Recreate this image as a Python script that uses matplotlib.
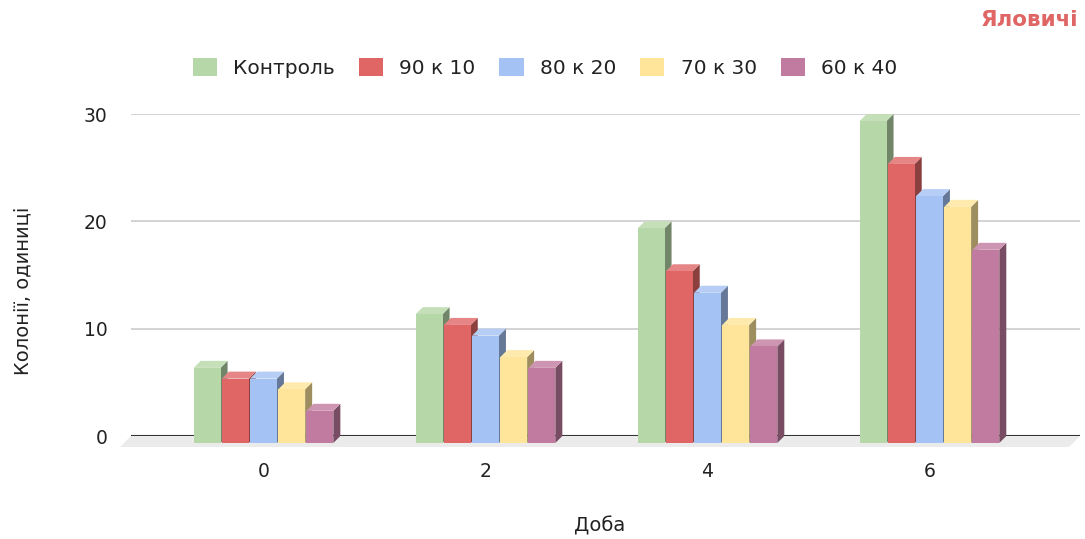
import matplotlib.pyplot as plt
from matplotlib.patches import Polygon, Rectangle, Patch
import numpy as np

plt.rcParams['font.family'] = ['DejaVu Sans']

# days and colony counts per mix
days = ['0', '2', '4', '6']
series = ['Контроль', '90 к 10', '80 к 20', '70 к 30', '60 к 40']
kontrol = [7, 12, 20, 30]
mix_90_10 = [6, 11, 16, 26]
mix_80_20 = [6, 10, 14, 23]
mix_70_30 = [5, 8, 11, 22]
mix_60_40 = [3, 7, 9, 18]
values = [kontrol, mix_90_10, mix_80_20, mix_70_30, mix_60_40]
colors = ['#b6d7a8', '#e06666', '#a4c2f4', '#ffe599', '#c27ba0']


def shade(c, k):
    r, g, b = plt.matplotlib.colors.to_rgb(c)
    return (r * k, g * k, b * k)


def tint(c, k):
    r, g, b = plt.matplotlib.colors.to_rgb(c)
    return (r + (1 - r) * k, g + (1 - g) * k, b + (1 - b) * k)


W, H = 1085, 539
fig = plt.figure(figsize=(W / 100, H / 100), dpi=100)
left, right, top, bottom = 131, 1080, 114, 436
ax = fig.add_axes([left / W, 1 - bottom / H, (right - left) / W, (bottom - top) / H])

x0, x1 = -0.597, 3.678
ax.set_xlim(x0, x1)
ax.set_ylim(0, 30)

px_x = (right - left) / (x1 - x0)
px_y = (bottom - top) / 30.0
ddx, ddy = 7 / px_x, 7 / px_y      # depth of the 3d bars
fdx, fdy = 11 / px_x, 11 / px_y    # depth of the floor

# floor and grid
ax.add_patch(Polygon([(x0, 0), (x1, 0), (x1 - fdx, -fdy), (x0 - fdx, -fdy)],
                     closed=True, facecolor='#ebebeb', edgecolor='none',
                     clip_on=False, zorder=1))
for gy in [10, 20, 30]:
    ax.axhline(gy, color='#cccccc', lw=1.2, zorder=0)
ax.axhline(0, color='#333333', lw=1.5, zorder=2)

slot = 0.127
w = 0.121
for j, (vals, c) in enumerate(zip(values, colors)):
    for i, v in enumerate(vals):
        xc = i + (j - 2) * slot
        xl, xr = xc - w / 2, xc + w / 2
        side = Polygon([(xr, -ddy), (xr + ddx, 0), (xr + ddx, v), (xr, v - ddy)],
                       closed=True, facecolor=shade(c, 0.62), edgecolor='none',
                       clip_on=False, zorder=3)
        topf = Polygon([(xl, v - ddy), (xr, v - ddy), (xr + ddx, v), (xl + ddx, v)],
                       closed=True, facecolor=tint(c, 0.2), edgecolor='none',
                       clip_on=False, zorder=3)
        front = Rectangle((xl, -ddy), w, v, facecolor=c, edgecolor='none',
                          clip_on=False, zorder=3)
        ax.add_patch(side)
        ax.add_patch(topf)
        ax.add_patch(front)

ax.set_xticks(range(len(days)))
ax.set_xticklabels(days)
ax.set_yticks([0, 10, 20, 30])
for s in ax.spines.values():
    s.set_visible(False)
ax.tick_params(axis='both', length=0, labelsize=13.5, labelcolor='#222222')
ax.tick_params(axis='x', pad=19)
ax.tick_params(axis='y', pad=17)

fig.text(600 / W, 1 - 526 / H, 'Доба', ha='center', va='center', fontsize=14, color='#222222')
fig.text(23 / W, 1 - 291 / H, 'Колонії, одиниці', ha='center', va='center',
         rotation=90, fontsize=14, color='#222222')
fig.text(1078 / W, 1 - 20 / H, 'Яловичі', ha='right', va='center',
         fontsize=15.5, fontweight='bold', color='#e06666')

handles = [Patch(facecolor=c, edgecolor='none') for c in colors]
fig.legend(handles, series, loc='center', bbox_to_anchor=(545 / W, 1 - 68 / H),
           ncol=5, frameon=False, fontsize=14.5, handlelength=1.2, handleheight=1.0,
           columnspacing=1.2, handletextpad=0.8, labelcolor='#222222')

fig.savefig('out.png', dpi=100)
